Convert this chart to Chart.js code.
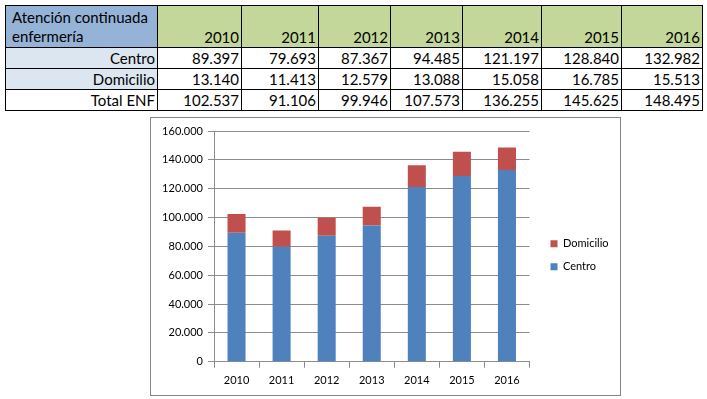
<!DOCTYPE html>
<html>
<head>
<meta charset="utf-8">
<script src="https://cdn.jsdelivr.net/npm/chart.js@4.4.1/dist/chart.umd.min.js"></script>
<style>
  body { margin: 0; background: #fff; font-family: Lato, "Open Sans", sans-serif; }
  #tbl { position: absolute; left: 5px; top: 5px; border-collapse: collapse; table-layout: fixed; font-size: 15px; color: #000; }
  #tbl td { border: 1px solid #000; padding: 0 2px 0 3px; text-align: right; white-space: nowrap; overflow: hidden; }
  #tbl tr.head td { height: 39px; vertical-align: bottom; background: #C4D79B; padding-bottom: 1px; line-height: 18px; }
  #tbl tr.head td.lab { background: #95B3D7; text-align: left; vertical-align: top; white-space: normal; line-height: 19px; padding: 2px 4px 0 6px; }
  #tbl tr.row td { height: 20px; line-height: 20px; }
  #tbl td.side { background: #DCE6F1; }
  #box { position: absolute; left: 150px; top: 117px; width: 471px; height: 279px; border: 1px solid #868686; box-sizing: border-box; }
  #wrap { position: relative; width: 469px; height: 277px; }
</style>
</head>
<body>
<table id="tbl"></table>
<div id="box"><div id="wrap"><canvas id="chart"></canvas></div></div>
<script>
const years = ['2010', '2011', '2012', '2013', '2014', '2015', '2016'];
const centro = [89397, 79693, 87367, 94485, 121197, 128840, 132982];
const domicilio = [13140, 11413, 12579, 13088, 15058, 16785, 15513];
const totalEnf = [102537, 91106, 99946, 107573, 136255, 145625, 148495];

const colWidths = [152, 84, 77, 72, 72, 79, 80, 81];

function fmt(n) {
    return String(n).replace(/\B(?=(\d{3})+(?!\d))/g, '.');
}

function buildTable() {
    const tbl = document.getElementById('tbl');
    let html = '<colgroup>';
    colWidths.forEach(function (w) { html += '<col style="width:' + w + 'px">'; });
    html += '</colgroup>';
    html += '<tr class="head"><td class="lab">Atención continuada enfermería</td>';
    years.forEach(function (y) { html += '<td>' + y + '</td>'; });
    html += '</tr>';
    const rows = [['Centro', centro, true], ['Domicilio', domicilio, true], ['Total ENF', totalEnf, false]];
    rows.forEach(function (r) {
        html += '<tr class="row"><td class="' + (r[2] ? 'side' : '') + '">' + r[0] + '</td>';
        r[1].forEach(function (v) { html += '<td>' + fmt(v) + '</td>'; });
        html += '</tr>';
    });
    tbl.innerHTML = html;
}
buildTable();

const gridColor = '#8c8c8c';
const ctx = document.getElementById('chart').getContext('2d');
const myChart = new Chart(ctx, {
    type: 'bar',
    data: {
        labels: years,
        datasets: [{
            label: 'Centro',
            data: centro,
            backgroundColor: '#4F81BD',
            categoryPercentage: 1,
            barPercentage: 0.4
        }, {
            label: 'Domicilio',
            data: domicilio,
            backgroundColor: '#C0504D',
            categoryPercentage: 1,
            barPercentage: 0.4
        }]
    },
    options: {
        responsive: true,
        maintainAspectRatio: false,
        animation: false,
        layout: { padding: { top: 13, right: 4, bottom: 2, left: 0 } },
        plugins: {
            tooltip: { enabled: false },
            legend: {
                position: 'right',
                align: 'start',
                reverse: true,
                // empty title only used as a spacer to push the items down
                title: { display: true, text: '', padding: { top: 82, bottom: 0 }, font: { size: 11 } },
                labels: {
                    boxWidth: 7,
                    boxHeight: 7,
                    padding: 12,
                    color: '#000',
                    font: { family: 'Lato', size: 11 }
                }
            }
        },
        scales: {
            x: {
                stacked: true,
                grid: { drawOnChartArea: false, offset: true, tickLength: 6, color: gridColor },
                border: { color: gridColor },
                ticks: { color: '#000', padding: 6, font: { family: 'Lato', size: 11 } }
            },
            y: {
                stacked: true,
                min: 0,
                max: 160000,
                afterFit: function (s) { s.width = 63; },
                grid: { color: gridColor, tickLength: 6 },
                border: { color: gridColor },
                ticks: {
                    stepSize: 20000,
                    padding: 5,
                    color: '#000',
                    font: { family: 'Lato', size: 11 },
                    callback: function (v) { return fmt(v); }
                }
            },
            gap: {
                position: 'right',
                display: true,
                afterFit: function (s) { s.width = 9; },
                grid: { display: false },
                border: { display: false },
                ticks: { display: false }
            }
        }
    }
});
</script>
</body>
</html>
